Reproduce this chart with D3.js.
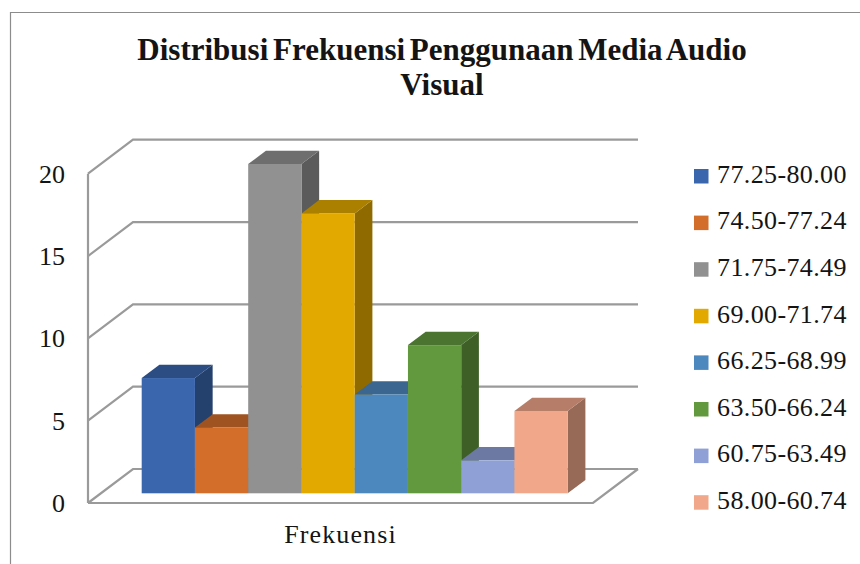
<!DOCTYPE html>
<html>
<head>
<meta charset="utf-8">
<script src="https://cdnjs.cloudflare.com/ajax/libs/d3/7.8.5/d3.min.js"></script>
<style>
	html, body { margin: 0; padding: 0; background: #fff; }
	text { font-family: "Liberation Serif", serif; fill: #141414; }
</style>
</head>
<body>
<div id="root"></div>
<script>
const title_lines	= ['Distribusi Frekuensi Penggunaan Media Audio', 'Visual'];
const category		= 'Frekuensi';
const series		= ['77.25-80.00', '74.50-77.24', '71.75-74.49', '69.00-71.74', '66.25-68.99', '63.50-66.24', '60.75-63.49', '58.00-60.74'];
const values		= [7, 4, 20, 17, 6, 9, 2, 5];
const ticks			= [0, 5, 10, 15, 20];
const colors		= ['#3a66ad', '#d26e2a', '#919191', '#e2a900', '#4c87be', '#62993e', '#8fa0d6', '#f0a78a'];

const svg_width		= 860;
const svg_height	= 564;

// front-left corner of the floor and the depth of the 3d box
const wall_depth	= { x: 45, y: -34 };
const bar_depth		= { x: 17.7, y: -13.3 };
const wall_x		= 88;
const wall_end		= 593;
const floor_y		= 503;
const bar_base		= 493.3;

const y		= d3.scaleLinear().domain([0, 20]).range([0, 329.3]);
const x		= d3.scaleBand().domain(series).range([141.7, 567.7]);
const shade	= (c, k) => d3.rgb(c).darker(k).formatHex();

const svg	= d3.select('#root').append('svg')
	.attr('width', svg_width)
	.attr('height', svg_height)
	.style('display', 'block');

// chart frame, only the left and top edges are inside the picture
svg.append('path')
	.attr('d', 'M10.5,564V12.5H860')
	.attr('fill', 'none')
	.attr('stroke', '#8c8c8c')
	.attr('stroke-width', 1.2);

svg.selectAll('.title').data(title_lines).enter().append('text')
	.attr('class', 'title')
	.attr('x', 442)
	.attr('y', (o, i) => 60 + i * 35)
	.attr('text-anchor', 'middle')
	.style('font-size', '31px')
	.style('font-weight', 'bold')
	.style('word-spacing', '-3px')
	.text((o) => o);

const wall	= svg.append('g').attr('id', 'wall')
	.attr('fill', 'none')
	.attr('stroke', '#9a9a9a')
	.attr('stroke-width', 2.2);

wall.selectAll('.grid').data(ticks).enter().append('path')
	.attr('class', 'grid')
	.attr('d', (o) => {
		let yy	= floor_y - y(o);
		return d3.line()([[wall_x, yy], [wall_x + wall_depth.x, yy + wall_depth.y], [wall_end + wall_depth.x, yy + wall_depth.y]]);
	});

wall.append('path')
	.attr('d', d3.line()([[wall_x, floor_y], [wall_x, floor_y - y(20)]]));

wall.append('path')
	.attr('d', d3.line()([[wall_x, floor_y], [wall_end, floor_y], [wall_end + wall_depth.x, floor_y + wall_depth.y]]));

svg.selectAll('.tick-label').data(ticks).enter().append('text')
	.attr('class', 'tick-label')
	.attr('x', 65)
	.attr('y', (o) => floor_y - y(o) + 9)
	.attr('text-anchor', 'end')
	.style('font-size', '26px')
	.text((o) => o);

const bars	= svg.selectAll('.bar').data(series).enter().append('g').attr('class', 'bar');

function face(points) {
	return d3.line()(points) + 'Z';
}

// side face
bars.append('path')
	.attr('fill', (o, i) => shade(colors[i], 1.3))
	.attr('d', (o, i) => {
		let r	= x(o) + x.bandwidth();
		let t	= bar_base - y(values[i]);
		return face([[r, t], [r + bar_depth.x, t + bar_depth.y], [r + bar_depth.x, bar_base + bar_depth.y], [r, bar_base]]);
	});

// top face
bars.append('path')
	.attr('fill', (o, i) => shade(colors[i], 0.78))
	.attr('d', (o, i) => {
		let l	= x(o);
		let r	= l + x.bandwidth();
		let t	= bar_base - y(values[i]);
		return face([[l, t], [l + bar_depth.x, t + bar_depth.y], [r + bar_depth.x, t + bar_depth.y], [r, t]]);
	});

bars.append('rect')
	.attr('x', (o) => x(o))
	.attr('y', (o, i) => bar_base - y(values[i]))
	.attr('width', x.bandwidth())
	.attr('height', (o, i) => y(values[i]))
	.attr('fill', (o, i) => colors[i]);

svg.append('text')
	.attr('x', 340.5)
	.attr('y', 543)
	.attr('text-anchor', 'middle')
	.style('font-size', '26px')
	.style('letter-spacing', '1.1px')
	.text(category);

const legends	= svg.selectAll('.legend').data(series).enter().append('g')
	.attr('class', 'legend')
	.attr('transform', (o, i) => 'translate(694,' + (176 + i * 46.6) + ')');

legends.append('rect')
	.attr('y', -7)
	.attr('width', 14.5)
	.attr('height', 14.5)
	.attr('fill', (o, i) => colors[i]);

legends.append('text')
	.attr('x', 23)
	.attr('y', 6.8)
	.style('font-size', '26px')
	.style('letter-spacing', '0.38px')
	.text((o) => o);
</script>
</body>
</html>
